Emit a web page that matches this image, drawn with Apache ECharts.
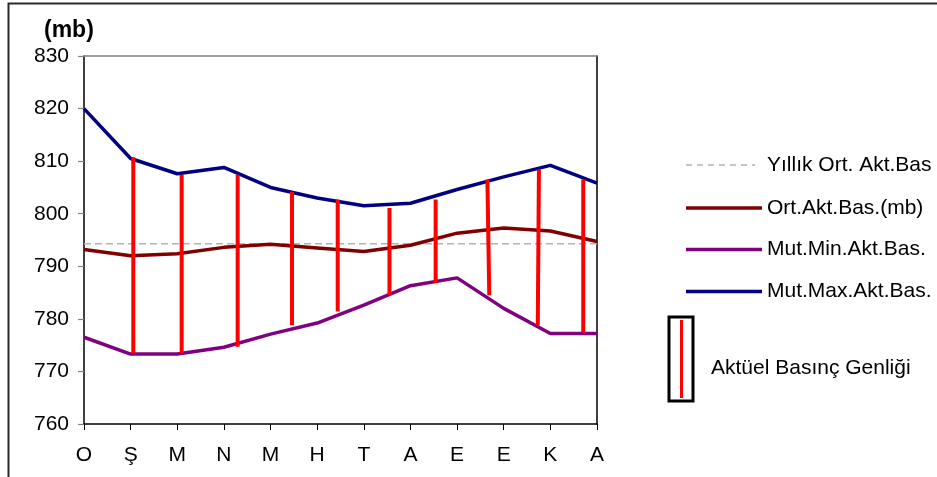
<!DOCTYPE html>
<html>
<head>
<meta charset="utf-8">
<script src="https://cdn.jsdelivr.net/npm/echarts@6/dist/echarts.min.js"></script>
<style>
  html, body { margin: 0; padding: 0; background: #fff; }
  #chart { width: 937px; height: 477px; }
</style>
</head>
<body>
<div id="chart"></div>
<script>
// Monthly actual pressure (mb)
const months = ['O', 'Ş', 'M', 'N', 'M', 'H', 'T', 'A', 'E', 'E', 'K', 'A'];
const meanPressure = [793.2, 792.0, 792.4, 793.6, 794.2, 793.5, 792.8, 794.0, 796.3, 797.3, 796.7, 794.7];
const minPressure = [776.5, 773.3, 773.3, 774.6, 777.1, 779.2, 782.6, 786.3, 787.8, 782.0, 777.2, 777.2];
const maxPressure = [820.0, 810.5, 807.6, 808.8, 805.0, 803.0, 801.5, 802.0, 804.6, 807.0, 809.2, 805.8];
const annualMean = 794.3;

// Amplitude bars: position along the month axis (top / bottom end) and extent
const rangePosTop = [1.057, 2.094, 3.295, 4.46, 5.44, 6.55, 7.54, 8.65, 9.755, 10.705];
const rangePosBottom = [1.057, 2.094, 3.295, 4.46, 5.44, 6.55, 7.54, 8.69, 9.73, 10.705];
const rangeHigh = [810.7, 807.4, 807.4, 804.2, 802.7, 801.1, 802.7, 806.5, 808.4, 806.5];
const rangeLow = [773.4, 773.4, 774.7, 778.8, 781.4, 784.5, 786.8, 784.5, 778.8, 777.4];

const yTicks = { min: 760, max: 830, step: 10 };

const C_MEAN = '#800000';
const C_MIN = '#800080';
const C_MAX = '#000080';
const C_RANGE = '#FF0000';
const C_ANNUAL = '#B4B4B4';
const FONT = '"Liberation Sans", Arial, sans-serif';

const toPairs = arr => arr.map((v, i) => [i, v]);
const rangeData = rangeHigh.map((h, i) => [rangePosTop[i], h, rangePosBottom[i], rangeLow[i]]);

const chart = echarts.init(document.getElementById('chart'), null, { renderer: 'canvas' });

const legendX0 = 686, legendX1 = 762, legendTextX = 767;
const legendRows = [
  { y: 165, color: C_ANNUAL, dash: [6, 5], width: 1.5, x1: 755, text: 'Yıllık Ort. Akt.Bas' },
  { y: 208, color: C_MEAN, dash: null, width: 3.5, x1: legendX1, text: 'Ort.Akt.Bas.(mb)' },
  { y: 249.5, color: C_MIN, dash: null, width: 3.5, x1: legendX1, text: 'Mut.Min.Akt.Bas.' },
  { y: 291.5, color: C_MAX, dash: null, width: 3.5, x1: legendX1, text: 'Mut.Max.Akt.Bas.' }
];

const graphics = [
  // chart frame
  { type: 'polyline', silent: true, shape: { points: [[8.5, 480], [8.5, 3.5], [937, 3.5]] },
    style: { stroke: '#2a2a2a', lineWidth: 2, fill: null } },
  // unit title
  { type: 'text', x: 44, y: 31,
    style: { text: '(mb)', font: 'bold 23px ' + FONT, fill: '#000', verticalAlign: 'middle' } }
];
legendRows.forEach(r => {
  graphics.push({ type: 'line', silent: true,
    shape: { x1: legendX0, y1: r.y, x2: r.x1, y2: r.y },
    style: { stroke: r.color, lineWidth: r.width, lineDash: r.dash } });
  graphics.push({ type: 'text', silent: true, x: legendTextX, y: r.y,
    style: { text: r.text, font: '21px ' + FONT, fill: '#000', verticalAlign: 'middle' } });
});
graphics.push(
  { type: 'rect', silent: true, shape: { x: 669, y: 317, width: 24, height: 84 },
    style: { stroke: '#000', lineWidth: 3, fill: '#fff' } },
  { type: 'line', silent: true, shape: { x1: 681.5, y1: 320, x2: 681.5, y2: 398 },
    style: { stroke: C_RANGE, lineWidth: 3 } },
  { type: 'text', silent: true, x: 711, y: 368,
    style: { text: 'Aktüel Basınç Genliği', font: '21px ' + FONT, fill: '#000', verticalAlign: 'middle' } }
);

const option = {
  animation: false,
  backgroundColor: '#fff',
  grid: { left: 84, top: 56, width: 513, height: 368, containLabel: false },
  xAxis: [
    {
      type: 'value', min: 0, max: months.length - 1, interval: 1,
      axisLine: { show: true, lineStyle: { color: '#000', width: 1.5 } },
      axisTick: { show: true, inside: false, length: 6, lineStyle: { color: '#000', width: 1 } },
      axisLabel: { margin: 21, fontSize: 21, fontFamily: FONT, color: '#000',
        formatter: v => months[Math.round(v)] },
      splitLine: { show: false }
    },
    {
      type: 'value', position: 'top', min: 0, max: months.length - 1,
      axisLine: { show: true, onZero: false, lineStyle: { color: '#808080', width: 1.5 } },
      axisTick: { show: false }, axisLabel: { show: false }, splitLine: { show: false }
    }
  ],
  yAxis: [
    {
      type: 'value', min: yTicks.min, max: yTicks.max, interval: yTicks.step,
      axisLine: { show: true, onZero: false, lineStyle: { color: '#000', width: 1.5 } },
      axisTick: { show: true, length: 6, lineStyle: { color: '#808080', width: 1.2 } },
      axisLabel: { margin: 15, fontSize: 21, fontFamily: FONT, color: '#000' },
      splitLine: { show: false }
    },
    {
      type: 'value', position: 'right', min: yTicks.min, max: yTicks.max,
      axisLine: { show: true, onZero: false, lineStyle: { color: '#000', width: 1.5 } },
      axisTick: { show: false }, axisLabel: { show: false }, splitLine: { show: false }
    }
  ],
  series: [
    {
      name: 'Yıllık Ort. Akt.Bas', type: 'line', symbol: 'none', z: 1,
      data: [[0, annualMean], [months.length - 1, annualMean]],
      lineStyle: { color: C_ANNUAL, width: 1.5, type: [7, 4] }
    },
    {
      name: 'Ort.Akt.Bas.(mb)', type: 'line', symbol: 'none', z: 3,
      data: toPairs(meanPressure), lineStyle: { color: C_MEAN, width: 3.5 }
    },
    {
      name: 'Mut.Min.Akt.Bas.', type: 'line', symbol: 'none', z: 3,
      data: toPairs(minPressure), lineStyle: { color: C_MIN, width: 3.5 }
    },
    {
      name: 'Mut.Max.Akt.Bas.', type: 'line', symbol: 'none', z: 3,
      data: toPairs(maxPressure), lineStyle: { color: C_MAX, width: 3.5 }
    },
    {
      name: 'Aktüel Basınç Genliği', type: 'custom', z: 4,
      data: rangeData,
      encode: { x: [0, 2], y: [1, 3] },
      renderItem: (params, api) => {
        const top = api.coord([api.value(0), api.value(1)]);
        const bot = api.coord([api.value(2), api.value(3)]);
        return {
          type: 'line',
          shape: { x1: top[0], y1: top[1], x2: bot[0], y2: bot[1] },
          style: { stroke: C_RANGE, lineWidth: 4 }
        };
      }
    }
  ],
  graphic: graphics
};

chart.setOption(option);
</script>
</body>
</html>
